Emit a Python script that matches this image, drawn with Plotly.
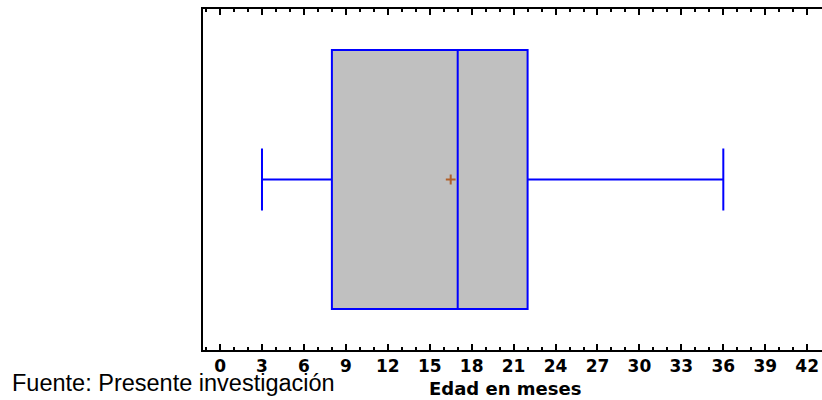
import plotly.graph_objects as go

# Data
series_name = "Edad en meses"
lower_whisker = [3]
q1_values = [8]
median_values = [17]
q3_values = [22]
upper_whisker = [36]
mean_values = [16.5]
box_position = [0]
tick_values = [0, 3, 6, 9, 12, 15, 18, 21, 24, 27, 30, 33, 36, 39, 42]
tick_labels = ["0", "3", "6", "9", "12", "15", "18", "21", "24", "27", "30", "33", "36", "39", "42"]
caption_text = "Fuente: Presente investigación"

fig = go.Figure()
fig.add_trace(go.Box(
    orientation="h",
    y=box_position,
    q1=q1_values,
    median=median_values,
    q3=q3_values,
    lowerfence=lower_whisker,
    upperfence=upper_whisker,
    fillcolor="#C0C0C0",
    line=dict(color="#0000FF", width=2),
    whiskerwidth=0.24,
    width=1.52,
    boxpoints=False,
    showlegend=False,
    hoverinfo="skip",
))
fig.add_trace(go.Scatter(
    x=mean_values,
    y=box_position,
    mode="markers",
    marker=dict(symbol="cross-thin", size=7, line=dict(color="#B0602A", width=2)),
    showlegend=False,
    hoverinfo="skip",
))

fig.update_layout(
    width=822,
    height=400,
    margin=dict(l=203, r=0, t=9, b=50),
    paper_bgcolor="white",
    plot_bgcolor="white",
    font=dict(family="Liberation Sans, Arial", color="black"),
    xaxis=dict(
        range=[-1.22, 43.06],
        tickvals=tick_values,
        ticktext=tick_labels,
        tickfont=dict(family="DejaVu Sans", size=17, color="black", weight="bold"),
        ticks="inside",
        ticklen=6,
        tickwidth=1.5,
        tickcolor="black",
        minor=dict(dtick=1, tick0=0, ticks="inside", ticklen=3, tickwidth=1.5, tickcolor="black", showgrid=False),
        showline=True,
        linecolor="black",
        linewidth=2,
        mirror="allticks",
        showgrid=False,
        zeroline=False,
        fixedrange=True,
    ),
    yaxis=dict(
        range=[-1, 1],
        showticklabels=False,
        ticks="",
        showline=True,
        linecolor="black",
        linewidth=2,
        mirror=False,
        showgrid=False,
        zeroline=False,
        fixedrange=True,
    ),
    annotations=[
        dict(
            text="<b>" + series_name + "</b>",
            xref="paper", yref="paper",
            x=(505 - 203) / 619, y=(350 - 389) / 341,
            xanchor="center", yanchor="middle",
            showarrow=False,
            font=dict(family="DejaVu Sans", size=18, color="black"),
        ),
        dict(
            text=caption_text,
            xref="paper", yref="paper",
            x=(10 - 203) / 619, y=(350 - 383) / 341,
            xanchor="left", yanchor="middle",
            showarrow=False,
            font=dict(family="Liberation Sans, Arial", size=23.5, color="black"),
        ),
    ],
)

fig.write_html("out.html")
